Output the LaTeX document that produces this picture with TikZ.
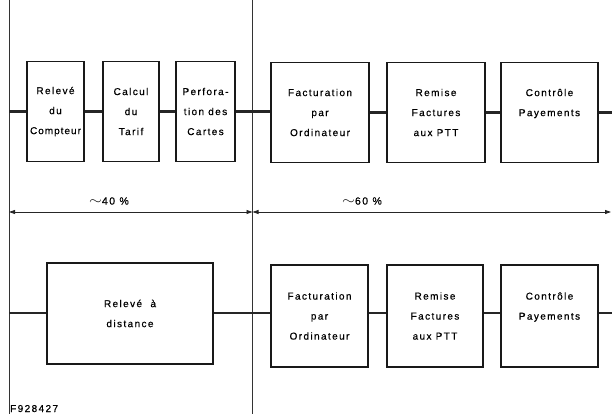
\documentclass[tikz,border=0pt]{standalone}
\usepackage{fontspec}
\setmainfont[LetterSpace=14,FakeBold=0.6]{Liberation Sans}
\usetikzlibrary{arrows.meta}
\begin{document}
\begin{tikzpicture}[x=1pt,y=-1pt,
  box/.style={draw=black!90, line width=1.3pt, align=center, inner sep=0pt,
    font=\fontsize{10}{20}\selectfont, minimum height=100pt},
  conn/.style={line width=2.6pt, black!85},
  guide/.style={line width=0.8pt, black!80},
  dim/.style={line width=0.8pt, black!85, {Triangle[length=6pt,width=4pt]}-{Triangle[length=6pt,width=4pt]}},
  lbl/.style={font=\fontsize{10.5}{12}\selectfont}]
\useasboundingbox (0,0) rectangle (612,414);
% guide lines
\coordinate (gl0) at (9,0);
\coordinate (gl1) at (9,414);
\coordinate (gm0) at (252.5,0);
\coordinate (gm1) at (252.5,414);
\draw[guide] (gl0) -- (gl1);
\draw[guide] (gm0) -- (gm1);
% top row
\node[box, minimum width=57pt] (t1) at (55.5,111.5) {Relevé\\du\\{\addfontfeatures{LetterSpace=10}Compteur}};
\node[box, minimum width=56pt] (t2) at (131,111.5) {Calcul\\du\\Tarif};
\node[box, minimum width=59pt] (t3) at (205.5,111.5) {Perfora-\\tion des\\Cartes};
\node[box, minimum width=98pt] (t4) at (320,112.5) {Facturation\\par\\Ordinateur};
\node[box, minimum width=98pt] (t5) at (436,112.5) {Remise\\Factures\\aux PTT};
\node[box, minimum width=97pt] (t6) at (549.5,112.5) {Contrôle\\Payements\\\mbox{}};
\coordinate (tl) at (9,111.5);
\coordinate (tr) at (612,112.5);
\draw[conn] (tl) -- (t1.west);
\draw[conn] (t1) -- (t2);
\draw[conn] (t2) -- (t3);
\draw[conn] (t3.east) -- (t3.east -| t4.west);
\draw[conn] (t4) -- (t5);
\draw[conn] (t5) -- (t6);
\draw[conn] (t6.east) -- (tr);
% dimension
\coordinate (d0) at (9,212);
\coordinate (d1) at (252.5,212);
\coordinate (d2) at (611,212);
\draw[dim] (d0) -- (d1);
\draw[dim] (d1) -- (d2);
\node[lbl] (p40) at (109,201) {\raisebox{0.5pt}{\scalebox{1.5}[1.2]{$\sim$}}40\ \%};
\node[lbl] (p60) at (362,201) {\raisebox{0.5pt}{\scalebox{1.5}[1.2]{$\sim$}}60\ \%};
% bottom row
\node[box, minimum width=166pt, minimum height=101pt] (u1) at (130,313.5) {Relevé\ \ à\\distance};
\node[box, minimum width=97pt, minimum height=102pt] (u4) at (319.5,316) {Facturation\\par\\Ordinateur};
\node[box, minimum width=96pt, minimum height=102pt] (u5) at (435,316) {Remise\\Factures\\aux PTT};
\node[box, minimum width=97pt, minimum height=102pt] (u6) at (549.5,316) {Contrôle\\Payements\\\mbox{}};
\coordinate (ul) at (9,313);
\coordinate (ur) at (612,313);
\draw[conn] (ul) -- (ul -| u1.west);
\draw[conn] (u1.east |- ul) -- (ul -| u4.west);
\draw[conn] (u4.east |- ul) -- (ul -| u5.west);
\draw[conn] (u5.east |- ul) -- (ul -| u6.west);
\draw[conn] (u6.east |- ul) -- (ur);
% figure number
\node[anchor=base west, inner sep=0pt, font=\fontsize{10}{10}\selectfont] (fig) at (10,412) {F928427};
\end{tikzpicture}
\end{document}
